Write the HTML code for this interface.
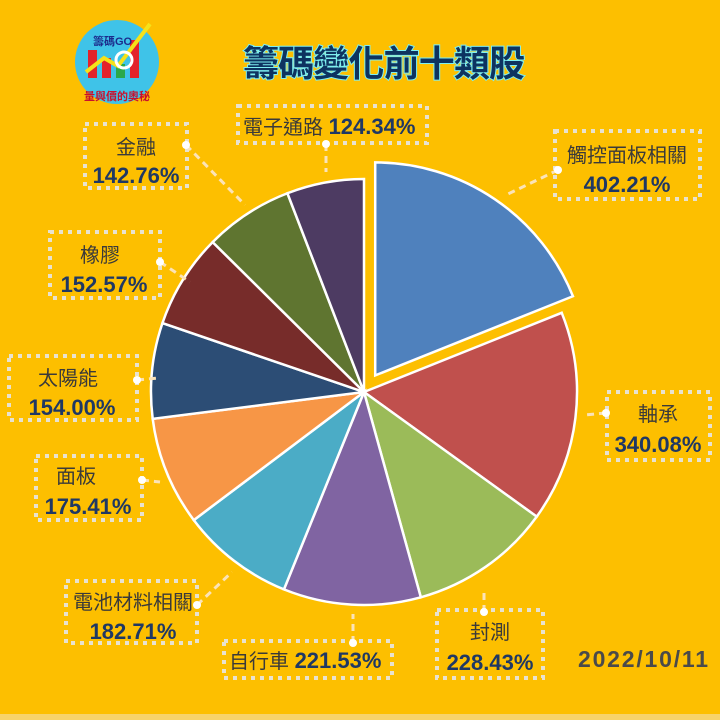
<!DOCTYPE html>
<html><head><meta charset="utf-8"><style>
body{margin:0;background:#fdbf00;}
svg{display:block}
text{font-family:"Liberation Sans","Noto Sans CJK TC",sans-serif}
.n{fill:#3a3a3a;font-size:20px}
.p{fill:#1f3864;font-size:22px;font-weight:bold}
.b{fill:none;stroke:#e8e2d0;stroke-width:4;stroke-dasharray:4 5}
.a{stroke:#fbe3b8;stroke-width:3;stroke-dasharray:7 5;fill:none}
</style></head><body>
<svg id="s" width="720" height="720" viewBox="0 0 720 720">
<rect width="720" height="720" fill="#fdbf00"/>
<rect y="714" width="720" height="6" fill="#f7d36a"/>
<g id="pie"></g>
<!-- logo -->
<circle cx="117" cy="62" r="42" fill="#3fc3e8"/>
<rect x="88" y="50" width="9" height="28" fill="#e3222b"/><rect x="102" y="58" width="9" height="20" fill="#e3222b"/><rect x="116" y="64" width="9" height="14" fill="#2aa84a"/><rect x="130" y="40" width="9" height="38" fill="#e3222b"/>
<polyline points="86,72 104,58 118,66 150,24" stroke="#f5e21a" stroke-width="4" fill="none"/>
<circle cx="124" cy="60" r="8" stroke="#fff" stroke-width="3" fill="none"/>
<text x="93" y="45" font-size="11" font-weight="bold" fill="#1c2b8c">籌碼GO</text>
<text x="84" y="100" font-size="11" fill="#c8102e" font-weight="bold">量與價的奧秘</text>
<!-- title -->
<text x="243" y="76" font-size="36" font-weight="bold" fill="#0d3360" stroke="#7ff0f0" stroke-width="2" paint-order="stroke" textLength="282">籌碼變化前十類股</text>
<!-- labels -->
<rect class="b" x="238" y="106" width="189" height="37"/><text x="243" y="134" class="n">電子通路 <tspan class="p">124.34%</tspan></text>
<rect class="b" x="85" y="124" width="102" height="64"/><text x="136" y="154" class="n" text-anchor="middle">金融</text><text x="136" y="183" class="p" text-anchor="middle">142.76%</text>
<rect class="b" x="555" y="131" width="145" height="68"/><text x="627" y="162" class="n" text-anchor="middle">觸控面板相關</text><text x="627" y="192" class="p" text-anchor="middle">402.21%</text>
<rect class="b" x="50" y="232" width="110" height="66"/><text x="100" y="262" class="n" text-anchor="middle">橡膠</text><text x="104" y="292" class="p" text-anchor="middle">152.57%</text>
<rect class="b" x="9" y="356" width="128" height="64"/><text x="68" y="385" class="n" text-anchor="middle">太陽能</text><text x="72" y="415" class="p" text-anchor="middle">154.00%</text>
<rect class="b" x="36" y="456" width="106" height="64"/><text x="76" y="483" class="n" text-anchor="middle">面板</text><text x="88" y="514" class="p" text-anchor="middle">175.41%</text>
<rect class="b" x="66" y="581" width="131" height="62"/><text x="133" y="609" class="n" text-anchor="middle">電池材料相關</text><text x="133" y="639" class="p" text-anchor="middle">182.71%</text>
<rect class="b" x="224" y="641" width="168" height="37"/><text x="229" y="668" class="n">自行車 <tspan class="p">221.53%</tspan></text>
<rect class="b" x="437" y="610" width="106" height="68"/><text x="490" y="639" class="n" text-anchor="middle">封測</text><text x="490" y="670" class="p" text-anchor="middle">228.43%</text>
<rect class="b" x="607" y="392" width="103" height="68"/><text x="658" y="421" class="n" text-anchor="middle">軸承</text><text x="658" y="452" class="p" text-anchor="middle">340.08%</text>
<text x="578" y="667" font-size="23" font-weight="bold" fill="#4a4a4a" textLength="130">2022/10/11</text>
<!-- arrows -->
<g>
<path class="a" d="M326,144 L326,172"/><path class="a" d="M186,145 L245,205"/><path class="a" d="M558,170 L508,194"/>
<path class="a" d="M160,262 L190,282"/><path class="a" d="M137,380 L158,378"/><path class="a" d="M142,480 L160,482"/>
<path class="a" d="M197,605 L232,572"/><path class="a" d="M353,643 L353,614"/><path class="a" d="M484,612 L484,590"/><path class="a" d="M606,413 L585,415"/>
</g>
<g fill="#fff"><circle cx="326" cy="144" r="4"/><circle cx="186" cy="145" r="4"/><circle cx="558" cy="170" r="4"/><circle cx="160" cy="262" r="4"/><circle cx="137" cy="380" r="4"/><circle cx="142" cy="480" r="4"/><circle cx="197" cy="605" r="4"/><circle cx="353" cy="643" r="4"/><circle cx="484" cy="612" r="4"/><circle cx="606" cy="413" r="4"/></g>
</svg>
<script>
var v=[402.21,340.08,228.43,221.53,182.71,175.41,154,152.57,142.76,124.34];
var c=["#4f81bd","#c0504d","#9bbb59","#8064a2","#4bacc6","#f79646","#2c4d75","#772c2a","#5f7530","#4d3b62"];
var t=v.reduce(function(a,b){return a+b},0),cx=364,cy=392,r=213,a=0,h="";
for(var i=0;i<v.length;i++){var s=a,e=a+v[i]/t*2*Math.PI;a=e;var ox=0,oy=0;
if(i==0){var m=(s+e)/2;ox=20*Math.sin(m);oy=-20*Math.cos(m);}
var x0=cx+ox,y0=cy+oy;
var p="M"+x0+","+y0+"L"+(x0+r*Math.sin(s))+","+(y0-r*Math.cos(s))+"A"+r+","+r+" 0 "+((e-s)>Math.PI?1:0)+" 1 "+(x0+r*Math.sin(e))+","+(y0-r*Math.cos(e))+"Z";
h+='<path d="'+p+'" fill="'+c[i]+'" stroke="#fff" stroke-width="2.5"/>';}
document.getElementById("pie").innerHTML=h;
</script>
</body></html>
